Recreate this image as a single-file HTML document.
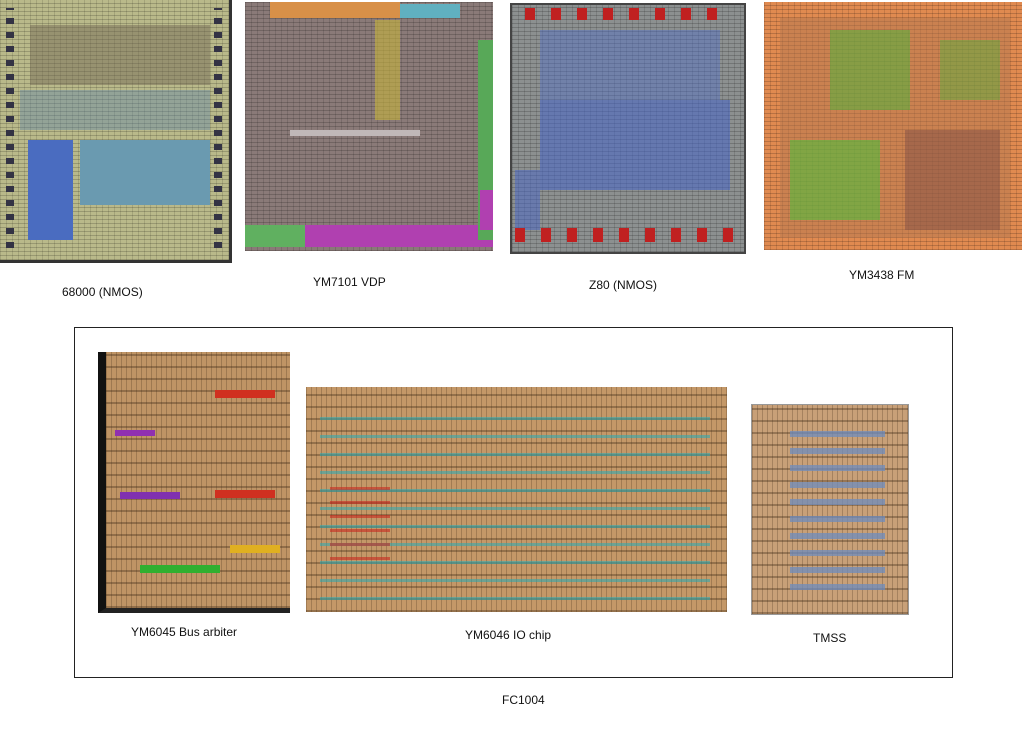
<!DOCTYPE html>
<html><head><meta charset="utf-8">
<style>
body{margin:0;width:1024px;height:754px;background:#fff;position:relative;overflow:hidden;font-family:"Liberation Sans",sans-serif;font-size:12px;color:#111}
.a{position:absolute}
.lbl{position:absolute;white-space:nowrap}
.h{background-image:repeating-linear-gradient(0deg,rgba(0,0,0,.18) 0 1px,transparent 1px 4px),repeating-linear-gradient(90deg,rgba(0,0,0,.12) 0 1px,transparent 1px 6px)}
.rows{background-image:repeating-linear-gradient(0deg,rgba(60,40,20,.35) 0 2px,transparent 2px 12px),repeating-linear-gradient(90deg,rgba(60,40,20,.25) 0 1px,transparent 1px 5px)}
</style></head><body>

<!-- 68000 -->
<div class="a h" style="left:0;top:0;width:232px;height:263px;background-color:#b9b98a;border-right:3px solid #333;border-bottom:3px solid #333;box-sizing:border-box"></div>
<div class="a" style="left:30px;top:25px;width:180px;height:60px;background:rgba(110,100,80,.45)"></div>
<div class="a" style="left:28px;top:140px;width:45px;height:100px;background:#4a6cc0"></div>
<div class="a" style="left:80px;top:140px;width:130px;height:65px;background:#6a9ab0"></div>
<div class="a" style="left:20px;top:90px;width:190px;height:40px;background:rgba(90,130,170,.4)"></div>
<div class="a" style="left:6px;top:8px;width:8px;height:240px;background:repeating-linear-gradient(0deg,#334 0 6px,transparent 6px 14px)"></div>
<div class="a" style="left:214px;top:8px;width:8px;height:240px;background:repeating-linear-gradient(0deg,#334 0 6px,transparent 6px 14px)"></div>

<!-- YM7101 -->
<div class="a h" style="left:245px;top:2px;width:248px;height:249px;background-color:#8a7a78"></div>
<div class="a" style="left:270px;top:2px;width:130px;height:16px;background:#d89048"></div>
<div class="a" style="left:400px;top:4px;width:60px;height:14px;background:#60b0c0"></div>
<div class="a" style="left:245px;top:225px;width:248px;height:22px;background:#b040b0"></div>
<div class="a" style="left:245px;top:225px;width:60px;height:22px;background:#60b060"></div>
<div class="a" style="left:478px;top:40px;width:15px;height:200px;background:#58a858"></div>
<div class="a" style="left:480px;top:190px;width:13px;height:40px;background:#b040b0"></div>
<div class="a" style="left:290px;top:130px;width:130px;height:6px;background:#c0b8b8"></div>
<div class="a" style="left:375px;top:20px;width:25px;height:100px;background:rgba(200,180,60,.6)"></div>

<!-- Z80 -->
<div class="a h" style="left:510px;top:3px;width:236px;height:251px;background-color:#8c9090;border:2px solid #444;box-sizing:border-box"></div>
<div class="a" style="left:540px;top:30px;width:180px;height:70px;background:rgba(80,110,200,.45)"></div>
<div class="a" style="left:540px;top:100px;width:190px;height:90px;background:rgba(70,100,200,.55)"></div>
<div class="a" style="left:515px;top:170px;width:25px;height:60px;background:rgba(70,100,200,.5)"></div>
<div class="a" style="left:525px;top:8px;width:200px;height:12px;background:repeating-linear-gradient(90deg,#c02020 0 10px,transparent 10px 26px)"></div>
<div class="a" style="left:515px;top:228px;width:225px;height:14px;background:repeating-linear-gradient(90deg,#c02020 0 10px,transparent 10px 26px)"></div>

<!-- YM3438 -->
<div class="a h" style="left:764px;top:2px;width:258px;height:248px;background-color:#e08a50"></div>
<div class="a" style="left:780px;top:18px;width:230px;height:220px;background:rgba(180,120,80,.5)"></div>
<div class="a" style="left:830px;top:30px;width:80px;height:80px;background:rgba(80,180,60,.55)"></div>
<div class="a" style="left:790px;top:140px;width:90px;height:80px;background:rgba(80,190,60,.6)"></div>
<div class="a" style="left:905px;top:130px;width:95px;height:100px;background:rgba(130,80,70,.5)"></div>
<div class="a" style="left:940px;top:40px;width:60px;height:60px;background:rgba(80,180,60,.45)"></div>

<div class="lbl" style="left:62px;top:285px">68000 (NMOS)</div>
<div class="lbl" style="left:313px;top:275px">YM7101 VDP</div>
<div class="lbl" style="left:589px;top:278px">Z80 (NMOS)</div>
<div class="lbl" style="left:849px;top:268px">YM3438 FM</div>

<div class="a" style="left:74px;top:327px;width:879px;height:351px;border:1px solid #222;box-sizing:border-box"></div>

<!-- YM6045 -->
<div class="a rows" style="left:98px;top:352px;width:192px;height:261px;background-color:#bf9465;border-left:8px solid #111;border-bottom:5px solid #222;box-sizing:border-box"></div>
<div class="a" style="left:215px;top:390px;width:60px;height:8px;background:#d03020"></div>
<div class="a" style="left:215px;top:490px;width:60px;height:8px;background:#d03020"></div>
<div class="a" style="left:120px;top:492px;width:60px;height:7px;background:#8030b0"></div>
<div class="a" style="left:140px;top:565px;width:80px;height:8px;background:#30b030"></div>
<div class="a" style="left:230px;top:545px;width:50px;height:8px;background:#e0b020"></div>
<div class="a" style="left:115px;top:430px;width:40px;height:6px;background:#9030b0"></div>

<!-- YM6046 -->
<div class="a rows" style="left:306px;top:387px;width:421px;height:225px;background-color:#c49868"></div>
<div class="a" style="left:320px;top:410px;width:390px;height:190px;background:repeating-linear-gradient(0deg,rgba(40,170,180,.55) 0 3px,transparent 3px 18px)"></div>
<div class="a" style="left:330px;top:480px;width:60px;height:80px;background:repeating-linear-gradient(0deg,rgba(200,40,30,.6) 0 3px,transparent 3px 14px)"></div>

<!-- TMSS -->
<div class="a rows" style="left:751px;top:404px;width:158px;height:211px;background-color:#c8a078;border:1px solid #999;box-sizing:border-box"></div>
<div class="a" style="left:790px;top:420px;width:95px;height:170px;background:repeating-linear-gradient(0deg,rgba(110,140,190,.75) 0 6px,transparent 6px 17px)"></div>

<div class="lbl" style="left:131px;top:625px">YM6045 Bus arbiter</div>
<div class="lbl" style="left:465px;top:628px">YM6046 IO chip</div>
<div class="lbl" style="left:813px;top:631px">TMSS</div>
<div class="lbl" style="left:502px;top:693px">FC1004</div>
</body></html>
